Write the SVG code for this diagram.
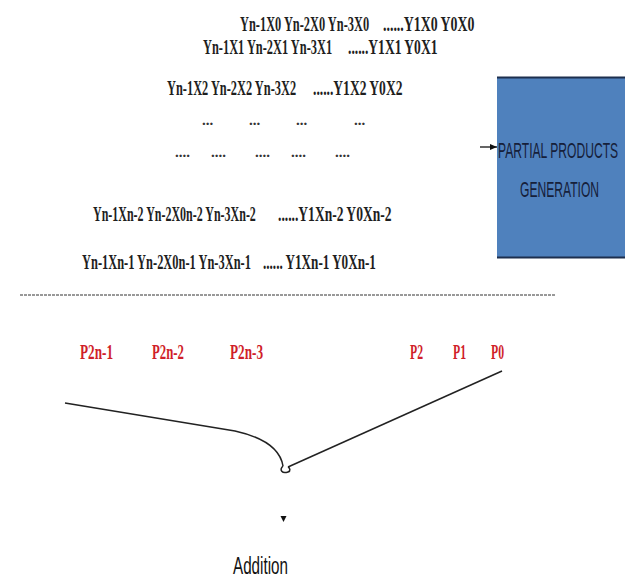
<svg xmlns="http://www.w3.org/2000/svg" width="636" height="579" viewBox="0 0 636 579">
<style>
.y{font-family:"Liberation Serif",serif;font-weight:bold;font-size:22px;fill:#1e1e1e}
.d{font-family:"Liberation Serif",serif;font-weight:bold;font-size:15px;fill:#333}
.p{font-family:"Liberation Serif",serif;font-weight:bold;font-size:21px;fill:#d01f2a}
.b{font-family:"Liberation Sans",sans-serif;font-size:22px;fill:#16203a}
.a{font-family:"Liberation Sans",sans-serif;font-size:24px;fill:#111}
.c{fill:none;stroke:#222;stroke-width:1.5}
</style>
<defs>
<marker id="ah" markerWidth="8" markerHeight="8" refX="7" refY="4" orient="auto" markerUnits="userSpaceOnUse">
<path d="M0,1 L7,4 L0,7 Z" fill="#111"/>
</marker>
</defs>
<g id="partial-products">
<text class="y" transform="translate(240,31) scale(0.563,1)">Yn-1X0 Yn-2X0 Yn-3X0</text>
<text class="y" transform="translate(383,31) scale(0.63,1)">......Y1X0 Y0X0</text>
<text class="y" transform="translate(203,54) scale(0.563,1)">Yn-1X1 Yn-2X1 Yn-3X1</text>
<text class="y" transform="translate(348,54) scale(0.616,1)">......Y1X1 Y0X1</text>
<text class="y" transform="translate(167,95) scale(0.563,1)">Yn-1X2 Yn-2X2 Yn-3X2</text>
<text class="y" transform="translate(313,95) scale(0.616,1)">......Y1X2 Y0X2</text>
<text class="d" x="202" y="125">...</text>
<text class="d" x="249" y="125">...</text>
<text class="d" x="296" y="125">...</text>
<text class="d" x="354" y="125">...</text>
<text class="d" x="175" y="157">....</text>
<text class="d" x="211" y="157">....</text>
<text class="d" x="255" y="157">....</text>
<text class="d" x="291" y="157">....</text>
<text class="d" x="335" y="157">....</text>
<text class="y" transform="translate(93,221) scale(0.545,1)">Yn-1Xn-2 Yn-2X0n-2 Yn-3Xn-2</text>
<text class="y" transform="translate(278,221) scale(0.616,1)">......Y1Xn-2 Y0Xn-2</text>
<text class="y" transform="translate(82,269) scale(0.565,1)">Yn-1Xn-1 Yn-2X0n-1 Yn-3Xn-1</text>
<text class="y" transform="translate(263,269) scale(0.598,1)" xml:space="preserve">...... Y1Xn-1 Y0Xn-1</text>
</g>
<g id="ppg-box">
<rect x="497" y="77" width="128" height="181" fill="#4f81bd"/>
<line x1="497" y1="77.5" x2="625" y2="77.5" stroke="#1d2f4e" stroke-width="2"/>
<line x1="497" y1="257.5" x2="625" y2="257.5" stroke="#1d2f4e" stroke-width="2"/>
<text class="b" transform="translate(498,158) scale(0.55,1)">PARTIAL PRODUCTS</text>
<text class="b" transform="translate(520,197) scale(0.55,1)">GENERATION</text>
</g>
<g id="separator">
<line x1="20" y1="295" x2="556" y2="295" stroke="#333" stroke-width="1" stroke-dasharray="3,1"/>
</g>
<g id="products">
<text class="p" transform="translate(80,359) scale(0.63,1)">P2n-1</text>
<text class="p" transform="translate(152,359) scale(0.61,1)">P2n-2</text>
<text class="p" transform="translate(230,359) scale(0.63,1)">P2n-3</text>
<text class="p" transform="translate(410,359) scale(0.56,1)">P2</text>
<text class="p" transform="translate(453,359) scale(0.56,1)">P1</text>
<text class="p" transform="translate(491,359) scale(0.56,1)">P0</text>
</g>
<g id="addition">
<text class="a" transform="translate(233,574) scale(0.634,1)">Addition</text>
</g>
<g id="connectors">
<line x1="480" y1="147" x2="497" y2="147" stroke="#111" stroke-width="1.3" marker-end="url(#ah)"/>
<path class="c" d="M65,403 L235,431 C262,437 280,448 283,466"/>
<path class="c" d="M283,466 C279,470 282,474 288,472 C291,471 290,468 288,467"/>
<path class="c" d="M288,467 L502,371"/>
<path d="M280.5,516 L286.5,516 L283.5,522 Z" fill="#111"/>
</g>
</svg>
